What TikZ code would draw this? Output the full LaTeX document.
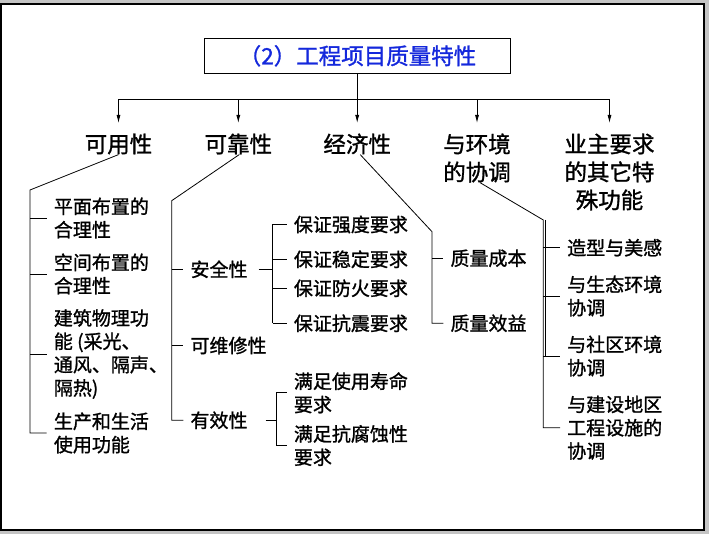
\documentclass[tikz,border=0pt]{standalone}
\usepackage{fontspec}
\setmainfont{Noto Sans CJK SC}[FakeBold=1.2]
\usetikzlibrary{arrows.meta}
\definecolor{titleblue}{RGB}{20,40,220}
\definecolor{edgegray}{RGB}{196,196,196}
\tikzstyle{frame}=[draw=black,line width=1.5pt,fill=white]
\tikzstyle{titlebox}=[draw,rectangle,line width=0.8pt,minimum width=306pt,minimum height=35pt,text=titleblue,font=\fontsize{22.5}{27}\selectfont]
\tikzstyle{head}=[align=center,inner sep=0pt,font=\fontsize{22.5}{28}\selectfont]
\tikzstyle{item}=[anchor=west,align=left,inner xsep=7pt,inner ysep=0pt,font=\fontsize{19}{23.3}\selectfont]
\tikzstyle{link}=[line width=0.8pt]

\begin{document}
\begin{tikzpicture}[x=1pt,y=-1pt,>={Latex[length=8pt,width=4pt]}]
  \useasboundingbox (0,0) rectangle (709,534);
  \fill[edgegray] (0,0) rectangle (709,534);
  \draw[frame] (0.75,4) rectangle (704,530);

  % top
  \node[titlebox] (title) at (357.5,55.8) {（2）工程项目质量特性};
  \coordinate (bus) at (357.5,99.3);

  \node[head] (use) at (118.5,144) {可用性};
  \node[head] (rel) at (238.3,144) {可靠性};
  \node[head] (econ) at (357.2,144) {经济性};
  \node[head] (env) at (477,158) {与环境\\的协调};
  \node[head] (owner) at (609.5,172) {业主要求\\的其它特\\殊功能};

  \draw[link] (title) -- (bus);
  \draw[link] (bus -| use) -- (bus -| owner);
  \foreach \n in {use,rel,econ,env,owner}
    \draw[link,->] (bus -| \n) -- (\n |- 0,123);

  % usability
  \coordinate (usetop) at (30,190);
  \node[item] (plan) at (46.7,218) {平面布置的\\合理性};
  \node[item] (space) at (46.7,274) {空间布置的\\合理性};
  \node[item] (phys) at (46.7,354) {建筑物理功\\能 (采光、\\通风、隔声、\\隔热)};
  \node[item] (life) at (46.7,433) {生产和生活\\使用功能};
  \draw[link] (use.south) -- (usetop) -- (usetop |- life.west) -- (life.west);
  \foreach \n in {plan,space,phys}
    \draw[link] (usetop |- \n.west) -- (\n.west);

  % reliability
  \coordinate (reltop) at (171.7,200.7);
  \node[item] (safe) at (183.3,269.3) {安全性};
  \node[item] (repair) at (183.3,345.5) {可维修性};
  \node[item] (valid) at (183.3,420.3) {有效性};
  \draw[link] ([xshift=1pt]rel.south) -- (reltop) -- (reltop |- valid.west) -- (valid.west);
  \foreach \n in {safe,repair}
    \draw[link] (reltop |- \n.west) -- (\n.west);

  \coordinate (safebar) at (272.7,0);
  \node[item] (strength) at (286.7,224.5) {保证强度要求};
  \node[item] (stable) at (286.7,259.3) {保证稳定要求};
  \node[item] (fire) at (286.7,288.3) {保证防火要求};
  \node[item] (quake) at (286.7,323.3) {保证抗震要求};
  \draw[link] ([xshift=4pt]safe.east) -- (safebar |- safe.east);
  \draw[link] (safebar |- strength.west) -- (safebar |- quake.west);
  \foreach \n in {strength,stable,fire,quake}
    \draw[link] (safebar |- \n.west) -- (\n.west);

  \coordinate (validbar) at (276,0);
  \node[item] (life1) at (286.7,392.8) {满足使用寿命\\要求};
  \node[item] (life2) at (286.7,445.5) {满足抗腐蚀性\\要求};
  \draw[link] ([xshift=11pt]valid.east) -- (validbar |- valid.east);
  \draw[link] (validbar |- life1.west) -- (validbar |- life2.west);
  \foreach \n in {life1,life2}
    \draw[link] (validbar |- \n.west) -- (\n.west);

  % economy
  \coordinate (econtop) at (432,231.7);
  \node[item] (cost) at (443.3,258.3) {质量成本};
  \node[item] (benefit) at (443.3,323.3) {质量效益};
  \draw[link] ([xshift=3pt]econ.south) -- (econtop) -- (econtop |- benefit.west) -- (benefit.west);
  \draw[link] (econtop |- cost.west) -- (cost.west);

  % environment
  \coordinate (envtop) at (543.3,220);
  \node[item] (shape) at (560,247.7) {造型与美感};
  \node[item] (eco) at (560,296) {与生态环境\\协调};
  \node[item] (comm) at (560,356) {与社区环境\\协调};
  \node[item] (infra) at (560,427.7) {与建设地区\\工程设施的\\协调};
  \draw[link] ([xshift=3pt]env.south) -- (envtop) -- (envtop |- infra.west) -- (infra.west);
  \draw[link] ([xshift=2.2pt]envtop) -- ([xshift=2.2pt]envtop |- comm.west);
  \foreach \n in {shape,eco,comm}
    \draw[link] (envtop |- \n.west) -- (\n.west);
\end{tikzpicture}
\end{document}
